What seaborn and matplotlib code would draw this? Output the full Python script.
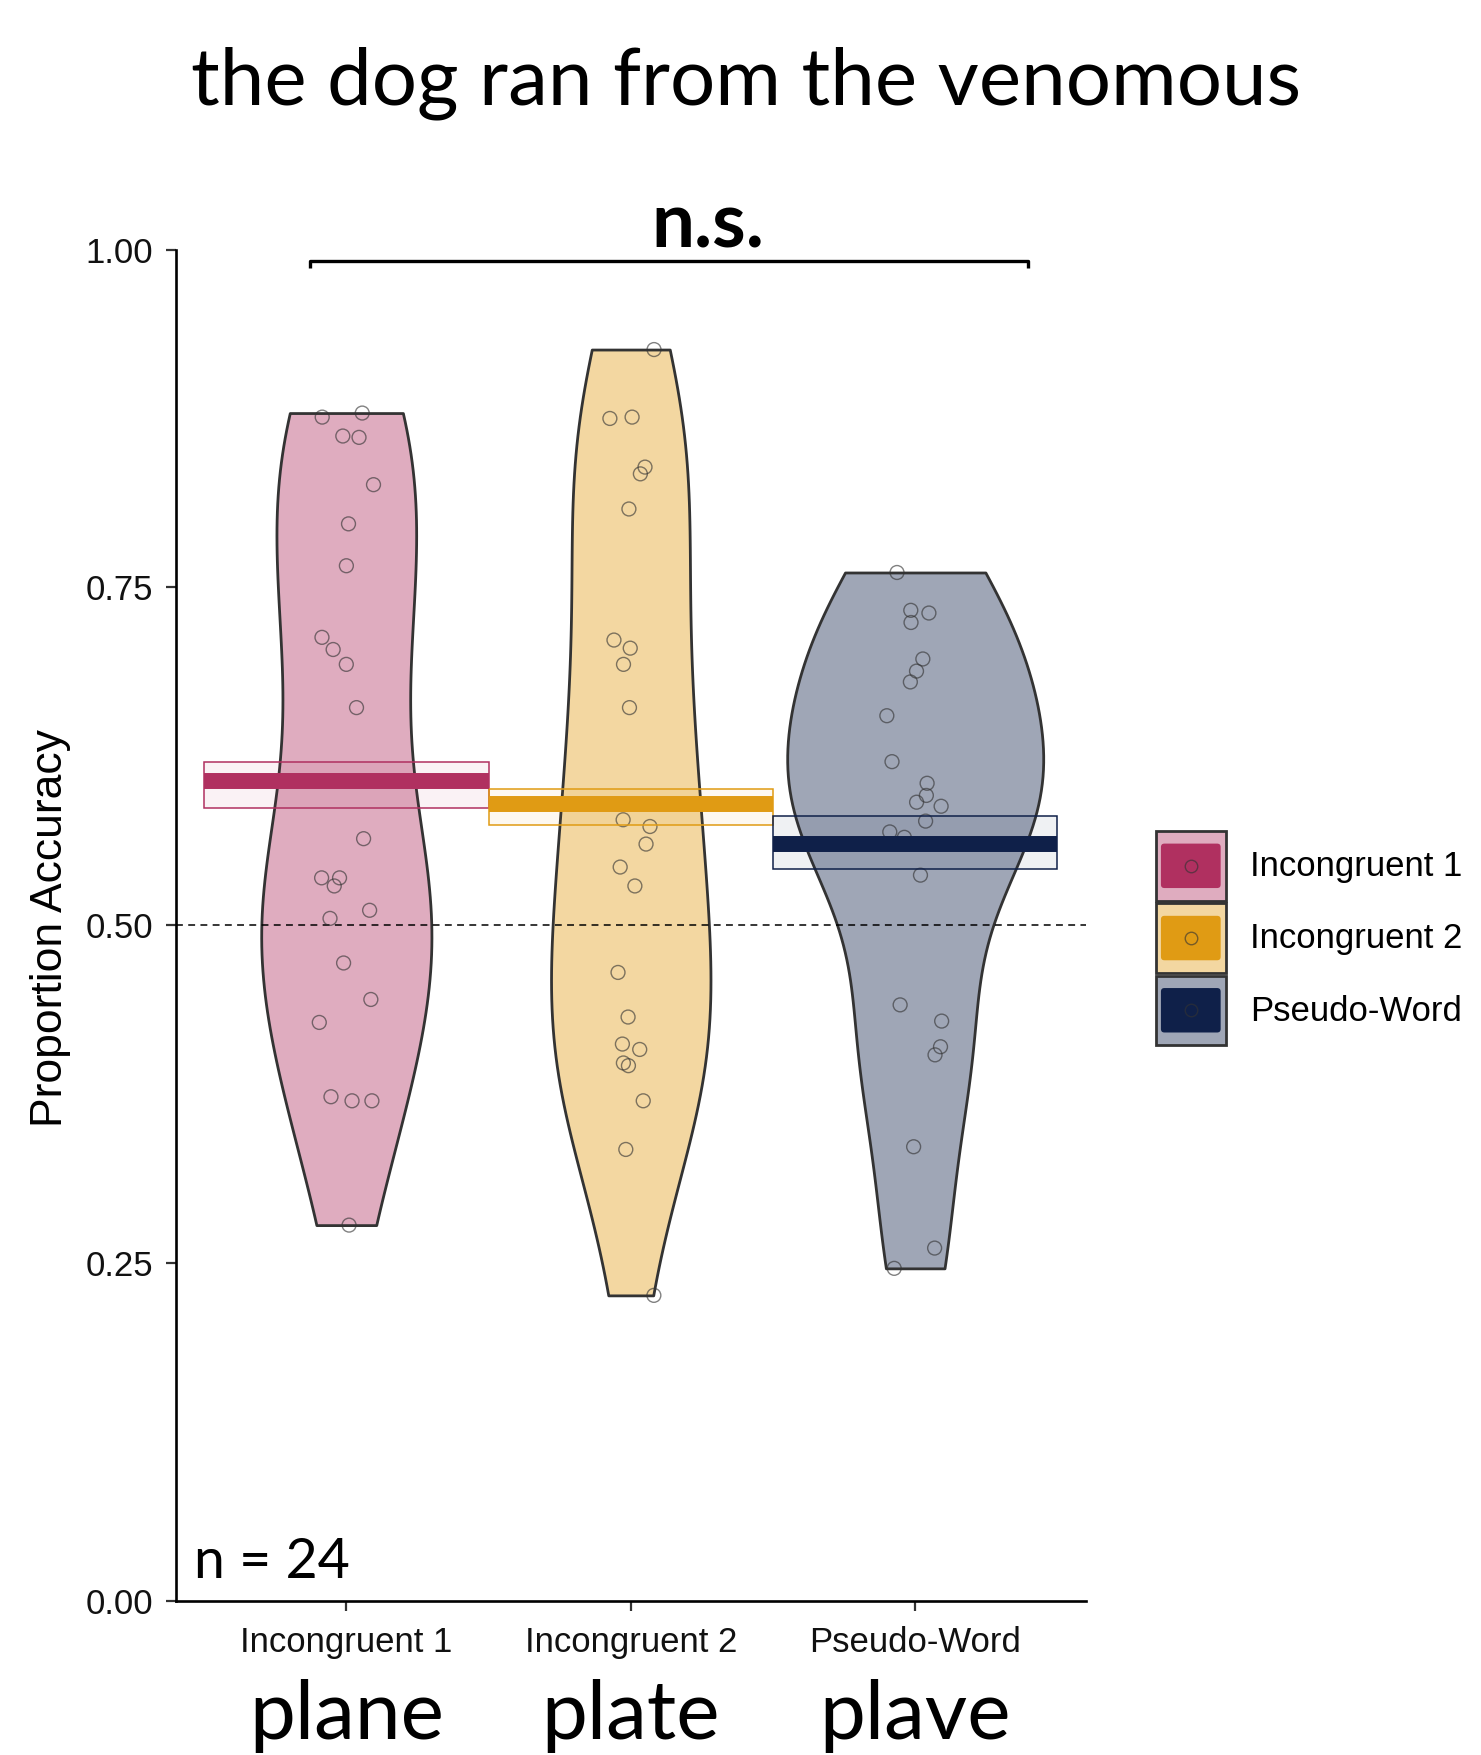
import numpy as np
import pandas as pd
import matplotlib
matplotlib.use("Agg")
import matplotlib.pyplot as plt
import matplotlib.transforms as mtransforms
from matplotlib.patches import Rectangle, FancyBboxPatch, Patch
from matplotlib.lines import Line2D
from matplotlib.collections import PathCollection
from matplotlib.legend_handler import HandlerBase
from matplotlib.colors import to_rgb
import seaborn as sns

# ---- data -------------------------------------------------------------
conditions = ["Incongruent 1", "Incongruent 2", "Pseudo-Word"]
words = ["plane", "plate", "plave"]

acc_incongruent1 = [0.876, 0.879, 0.862, 0.861, 0.826, 0.797, 0.766, 0.713,
                    0.704, 0.693, 0.661, 0.564, 0.535, 0.535, 0.529, 0.511,
                    0.505, 0.472, 0.445, 0.428, 0.370, 0.370, 0.373, 0.278]
acc_incongruent2 = [0.926, 0.875, 0.876, 0.839, 0.834, 0.808, 0.711, 0.705,
                    0.693, 0.661, 0.578, 0.573, 0.560, 0.543, 0.529, 0.465,
                    0.432, 0.412, 0.408, 0.398, 0.396, 0.370, 0.334, 0.226]
acc_pseudoword = [0.761, 0.731, 0.733, 0.724, 0.697, 0.688, 0.680, 0.655,
                  0.621, 0.605, 0.591, 0.596, 0.588, 0.577, 0.569, 0.565,
                  0.537, 0.441, 0.429, 0.410, 0.404, 0.336, 0.261, 0.246]

# error band around each condition mean
band_low = [0.5865, 0.5741, 0.5414]
band_high = [0.6206, 0.6008, 0.5808]

y_ticks = [0.00, 0.25, 0.50, 0.75, 1.00]
chance_level = 0.50

# ---- styling ----------------------------------------------------------
main_colors = ["#B03060", "#E09B14", "#0F2049"]
light_colors = [tuple(1 - 0.4 * (1 - c) for c in to_rgb(m)) for m in main_colors]
outline = "#333333"
point_edge = (0.2, 0.2, 0.2, 0.62)
arial = ["Liberation Sans", "DejaVu Sans"]
humanist = ["Lato", "DejaVu Sans"]

sns.set_theme(style="ticks")
plt.rcParams["font.family"] = arial
plt.rcParams["text.color"] = "black"

df = pd.DataFrame({
    "condition": np.repeat(conditions, [len(acc_incongruent1), len(acc_incongruent2), len(acc_pseudoword)]),
    "accuracy": acc_incongruent1 + acc_incongruent2 + acc_pseudoword,
})

fig = plt.figure(figsize=(14.81, 17.55), dpi=100)
ax = fig.add_axes([0.1186, 0.0879, 0.6146, 0.7699])

sns.violinplot(data=df, x="condition", y="accuracy", hue="condition",
               order=conditions, hue_order=conditions,
               palette=dict(zip(conditions, light_colors)), saturation=1,
               inner=None, cut=0, density_norm="area", common_norm=True,
               width=0.9, bw_adjust=0.9, linewidth=2.0, linecolor=outline,
               legend=False, ax=ax)

ax.axhline(chance_level, color="black", lw=1.1, ls=(0, (4.5, 3.5)), zorder=3)

np.random.seed(7)
sns.stripplot(data=df, x="condition", y="accuracy", order=conditions,
              jitter=0.1, size=10, color="white", linewidth=1.0,
              edgecolor=point_edge, ax=ax, zorder=4)
for coll in ax.collections:
    if isinstance(coll, PathCollection):
        coll.set_facecolor("none")
        coll.set_edgecolor(point_edge)

# mean line with its error band
series = [acc_incongruent1, acc_incongruent2, acc_pseudoword]
for i, vals in enumerate(series):
    m = np.mean(vals)
    ax.add_patch(Rectangle((i - 0.5, band_low[i]), 1.0, band_high[i] - band_low[i],
                           facecolor=main_colors[i] + "10", edgecolor=main_colors[i],
                           lw=1.1, zorder=5))
    ax.hlines(m, i - 0.5, i + 0.5, colors=main_colors[i], lw=11.5, zorder=6,
              capstyle="butt")

ax.set_xlim(-0.6, 2.6)
ax.set_ylim(0, 1)
ax.set_yticks(y_ticks)
ax.set_yticklabels([f"{t:.2f}" for t in y_ticks])
ax.set_xlabel("")
ax.set_ylabel("")
sns.despine(ax=ax)
for side in ("left", "bottom"):
    ax.spines[side].set_linewidth(1.9)
    ax.spines[side].set_color("black")
ax.tick_params(axis="both", length=7.5, width=1.6, color="#333333",
               labelsize=25, labelcolor="#111111")
ax.tick_params(axis="y", pad=8.5)
ax.tick_params(axis="x", pad=11)

# significance bracket
ax.plot([-0.126, -0.126, 2.398, 2.398], [0.986, 0.9917, 0.9917, 0.986],
        color="black", lw=2.4, clip_on=False, solid_capstyle="butt")
ax.text(1.27, 1.0015, "n.s.", ha="center", va="baseline", fontsize=55,
        fontweight="bold", family=humanist, clip_on=False)

ax.text(0.02, 0.017, "n = 24", transform=ax.transAxes, ha="left",
        va="baseline", fontsize=40, family=humanist)

# target words under the condition names
blend = mtransforms.blended_transform_factory(ax.transData, fig.transFigure)
for i, w in enumerate(words):
    ax.text(i, 0.009, w, transform=blend, ha="center", va="baseline",
            fontsize=59, family=humanist, clip_on=False)

fig.text(0.504, 0.9407, "the dog ran from the venomous", ha="center",
         va="baseline", fontsize=57.5, family=humanist)
fig.text(0.034, 0.4712, "Proportion Accuracy", rotation=90, ha="center",
         va="center", fontsize=32, family=arial)


class ConditionKey(HandlerBase):
    def create_artists(self, legend, orig_handle, xdescent, ydescent,
                       width, height, fontsize, trans):
        main = orig_handle.get_facecolor()
        light = orig_handle.get_edgecolor()
        x0, y0 = -xdescent, -ydescent
        outer = Rectangle((x0, y0), width, height, facecolor=light,
                          edgecolor=outline, lw=2.0, transform=trans)
        ix, iy = 0.07 * width, 0.18 * height
        inner = FancyBboxPatch((x0 + ix, y0 + iy), width - 2 * ix, height - 2 * iy,
                               boxstyle="round,pad=0,rounding_size=2.5",
                               facecolor=main, edgecolor="none", transform=trans)
        dot = Line2D([x0 + width / 2], [y0 + height / 2], marker="o",
                     markersize=9, markerfacecolor="none",
                     markeredgecolor=point_edge, markeredgewidth=1.0,
                     linestyle="none", transform=trans)
        return [outer, inner, dot]


handles = [Patch(facecolor=main_colors[i], edgecolor=light_colors[i]) for i in range(3)]
fig.legend(handles, conditions, handler_map={Patch: ConditionKey()},
           loc="center left", bbox_to_anchor=(0.7806, 0.4655),
           frameon=False, fontsize=25, handlelength=2.0, handleheight=2.7,
           labelspacing=0.08, handletextpad=0.7, borderpad=0, borderaxespad=0)

fig.savefig("out.png", dpi=100)
